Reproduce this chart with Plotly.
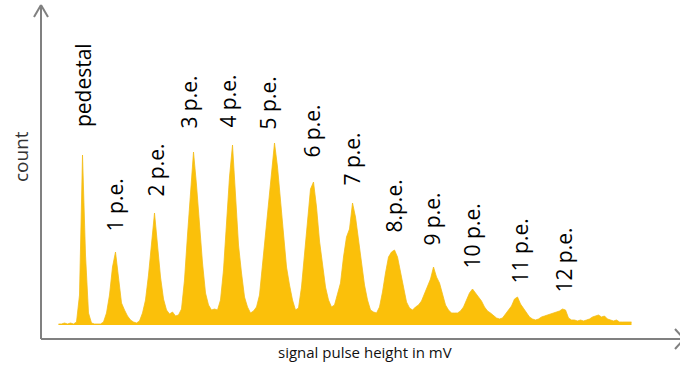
import plotly.graph_objects as go

# Histogram counts per channel
counts = [1, 1, 2, 1, 2, 1, 3, 30, 170, 70, 12, 2, 1, 1, 1, 3, 12, 30, 58, 73,
          45, 22, 15, 9, 5, 3, 2, 4, 12, 25, 50, 80, 112, 80, 48, 26, 15, 11, 13, 9,
          10, 16, 45, 90, 135, 173, 140, 98, 62, 32, 20, 15, 16, 15, 25, 55, 100, 148, 180, 132,
          80, 52, 28, 18, 12, 14, 18, 30, 60, 86, 120, 152, 182, 158, 122, 86, 58, 40, 25, 15,
          17, 38, 72, 104, 136, 143, 118, 84, 58, 38, 25, 18, 20, 30, 42, 68, 88, 96, 122, 108,
          85, 62, 40, 25, 15, 13, 12, 18, 33, 52, 68, 73, 75, 68, 52, 35, 23, 17, 15, 18,
          20, 24, 32, 40, 46, 58, 48, 42, 30, 20, 15, 12, 12, 12, 14, 18, 25, 32, 36, 32,
          29, 24, 18, 14, 12, 9, 7, 6, 7, 11, 15, 19, 26, 28, 21, 17, 12, 8, 6, 5,
          6, 8, 9, 10, 11, 12, 13, 14, 16, 15, 7, 5, 5, 4, 5, 4, 5, 6, 8, 9,
          10, 8, 9, 6, 5, 4, 5, 3, 3, 3, 3, 3]
channels = list(range(len(counts)))

# Peak labels: text, channel position, label base (count units)
peak_labels = ["pedestal", "1 p.e.", "2 p.e.", "3 p.e.", "4 p.e.", "5 p.e.", "6 p.e.",
               "7 p.e.", "8.p.e.", "9 p.e.", "10 p.e.", "11 p.e.", "12 p.e."]
label_channel = [8.2, 18.8, 32.2, 43.2, 56.2, 69.8, 84.2, 97.5, 111.5, 124.2, 137.8, 153.8, 168.2]
label_base = [196, 92, 126, 194, 195, 194, 165, 137, 90, 77, 55, 40, 30]

x_title = "signal pulse height in mV"
y_title = "count"

W, H = 680, 365
GOLD = "#FBC00A"
AXIS = "#808080"

fig = go.Figure()
fig.add_trace(go.Scatter(x=channels, y=counts, mode="lines",
                         line=dict(shape="linear", color="#F2BC1A", width=0.8),
                         fill="tozeroy", fillcolor=GOLD, hoverinfo="skip"))

def px(x, y):
    return x / W, 1 - y / H

shapes = []
def seg(x0, y0, x1, y1):
    a, b = px(x0, y0)
    c, d = px(x1, y1)
    shapes.append(dict(type="line", xref="paper", yref="paper", x0=a, y0=b, x1=c, y1=d,
                       line=dict(color=AXIS, width=2)))

seg(41, 339, 41, 5)
seg(41, 5, 34, 17)
seg(41, 5, 48, 17)
seg(41, 339, 683, 339)
seg(684, 339, 675, 329)
seg(684, 339, 675, 349)

annotations = []
for t, cx, yb in zip(peak_labels, label_channel, label_base):
    annotations.append(dict(x=cx, y=yb, xref="x", yref="y", text=t, textangle=-90,
                            showarrow=False, xanchor="center", yanchor="bottom",
                            font=dict(family="Open Sans", size=21, color="#000000")))

a, b = px(21, 157)
annotations.append(dict(x=a, y=b, xref="paper", yref="paper", text=y_title, textangle=-90,
                        showarrow=False, xanchor="center", yanchor="middle",
                        font=dict(family="Open Sans", size=19, color="#333333")))
a, b = px(365, 352)
annotations.append(dict(x=a, y=b, xref="paper", yref="paper", text=x_title,
                        showarrow=False, xanchor="center", yanchor="middle",
                        font=dict(family="Open Sans", size=15, color="#111111")))

fig.update_layout(
    width=W, height=H, margin=dict(l=0, r=0, t=0, b=0),
    paper_bgcolor="white", plot_bgcolor="white", showlegend=False,
    xaxis=dict(range=[-19.5, 207.1667], visible=False, fixedrange=True),
    yaxis=dict(range=[-40, 325], visible=False, fixedrange=True),
    shapes=shapes, annotations=annotations,
)

fig.write_html("out.html", config={"displayModeBar": False})
